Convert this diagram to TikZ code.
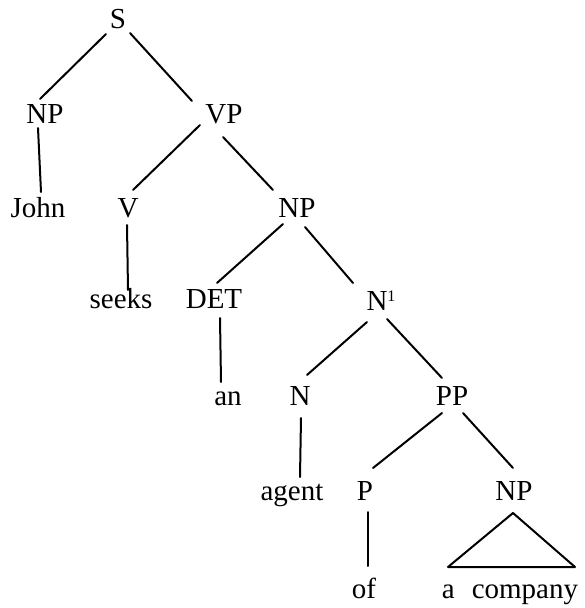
\documentclass[tikz,border=0pt]{standalone}
\usepackage{fontspec}
\setmainfont{Liberation Serif}
\begin{document}
\begin{tikzpicture}[x=1pt,y=-1pt,
  lbl/.style={anchor=base,inner sep=0pt,font=\fontsize{29}{34}\selectfont},
  edge/.style={line width=2pt,line cap=round,line join=round}]
\useasboundingbox (0,0) rectangle (584,608);

% category and word labels, placed by their baselines
\node[lbl] (S)     at (118,28)  {S};
\node[lbl] (NPa)   at (45,123)  {NP};
\node[lbl] (VP)    at (224,123) {VP};
\node[lbl] (John)  at (38,217)  {John};
\node[lbl] (V)     at (128,217) {V};
\node[lbl] (NPb)   at (297,217) {NP};
\node[lbl] (seeks) at (121,308) {seeks};
\node[lbl] (DET)   at (214,308) {DET};
\node[lbl] (N1)    at (381,310) {N\raisebox{9pt}{\fontsize{16}{16}\selectfont 1}};
\node[lbl] (an)    at (228,405) {an};
\node[lbl] (N)     at (300,405) {N};
\node[lbl] (PP)    at (452,405) {PP};
\node[lbl] (agent) at (292,500) {agent};
\node[lbl] (P)     at (365,500) {P};
\node[lbl] (NPc)   at (514,500) {NP};
\node[lbl] (of)    at (364,598) {of};
\node[lbl] (comp)  at (510,598) {a\hspace{17pt}company};

% branches
\draw[edge] ([shift={(-12,6)}]S.base)   -- ([shift={(-5,-24)}]NPa.base);
\draw[edge] ([shift={(12,5)}]S.base)    -- ([shift={(-32,-22)}]VP.base);
\draw[edge] ([shift={(-7,5)}]NPa.base)  -- ([shift={(3,-25)}]John.base);
\draw[edge] ([shift={(-24,2)}]VP.base)  -- ([shift={(5,-27)}]V.base);
\draw[edge] ([shift={(-1,14)}]VP.base)  -- ([shift={(-24,-27)}]NPb.base);
\draw[edge] ([shift={(-1,8)}]V.base)    -- ([shift={(7,-18)}]seeks.base);
\draw[edge] ([shift={(-14,7)}]NPb.base) -- ([shift={(3,-25)}]DET.base);
\draw[edge] ([shift={(8,10)}]NPb.base)  -- ([shift={(-28,-27)}]N1.base);
\draw[edge] ([shift={(6,10)}]DET.base)  -- ([shift={(-7,-23)}]an.base);
\draw[edge] ([shift={(-14,12)}]N1.base) -- ([shift={(7,-30)}]N.base);
\draw[edge] ([shift={(6,9)}]N1.base)    -- ([shift={(-10,-27)}]PP.base);
\draw[edge] ([shift={(1,13)}]N.base)    -- ([shift={(8,-23)}]agent.base);
\draw[edge] ([shift={(-10,8)}]PP.base)  -- ([shift={(8,-32)}]P.base);
\draw[edge] ([shift={(11,8)}]PP.base)   -- ([shift={(-1,-32)}]NPc.base);
\draw[edge] ([shift={(3,12)}]P.base)    -- ([shift={(4,-32)}]of.base);

% roof over the unanalysed noun phrase
\draw[edge] ([shift={(-1,13)}]NPc.base) -- ([shift={(-62,-31)}]comp.base)
            -- ([shift={(65,-31)}]comp.base) -- cycle;
\end{tikzpicture}
\end{document}
